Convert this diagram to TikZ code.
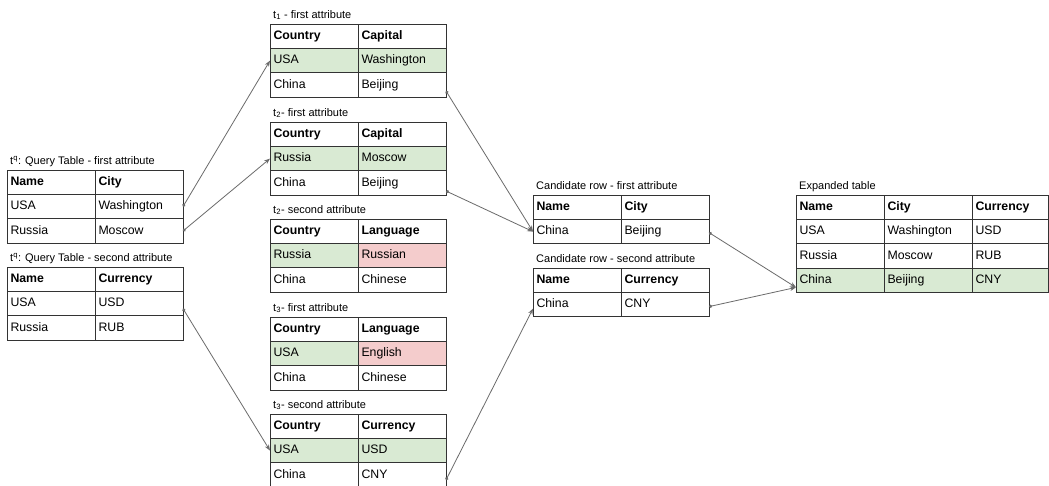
\documentclass[tikz,border=0pt]{standalone}
\usepackage{fontspec}
\setmainfont{Liberation Sans}
\usetikzlibrary{arrows.meta}
\definecolor{greenfill}{HTML}{D9EAD3}
\definecolor{redfill}{HTML}{F4CCCC}
\definecolor{linkgray}{HTML}{6B6B6B}
\definecolor{border}{HTML}{333333}
\newcommand\bodyfont{\fontsize{12.3}{14}\selectfont}
\newcommand\labfont{\fontsize{11}{13}\selectfont}
\newcommand\trow[6]{%
  \node[cell,#3] (#1a) at #2 {#4};
  \node[cell,#5] (#1b) at (#1a.north east) {#6};}
\tikzset{
  cell/.style={draw=border, line width=0.9pt, anchor=north west, outer sep=0pt,
    inner xsep=3.5pt, inner ysep=0pt, minimum height=24.4pt, text width=81pt,
    align=left, font=\bodyfont, text height=9pt, text depth=2.5pt},
  hd/.style={font=\bodyfont\bfseries},
  gr/.style={fill=greenfill},
  rd/.style={fill=redfill},
  narrow/.style={text width=69pt},
  lbl/.style={anchor=base west, inner sep=0pt, font=\labfont},
  link/.style={draw=linkgray, line width=0.8pt,
    {Circle[length=3.2pt]}-{Stealth[length=6pt,width=4.5pt]}}
}
\begin{document}
\begin{tikzpicture}[x=1pt,y=-1pt]
\useasboundingbox (0,0) rectangle (1049,485);
\fill[white] (0,0) rectangle (1049,485);

% Query table - first attribute
\node[lbl] (lq1) at (10,164) {t\textsuperscript{q}: Query Table - first attribute};
\trow{qah}{(7,170)}{hd}{Name}{hd}{City}
\trow{qa1}{(qaha.south west)}{}{USA}{}{Washington}
\trow{qa2}{(qa1a.south west)}{}{Russia}{}{Moscow}

% Query table - second attribute
\node[lbl] (lq2) at (10,261) {t\textsuperscript{q}: Query Table - second attribute};
\trow{qbh}{(7,267)}{hd}{Name}{hd}{Currency}
\trow{qb1}{(qbha.south west)}{}{USA}{}{USD}
\trow{qb2}{(qb1a.south west)}{}{Russia}{}{RUB}

% t1 - first attribute
\node[lbl] (l1) at (273,18) {t\textsubscript{1} - first attribute};
\trow{tah}{(270,24)}{hd}{Country}{hd}{Capital}
\trow{ta1}{(taha.south west)}{gr}{USA}{gr}{Washington}
\trow{ta2}{(ta1a.south west)}{}{China}{}{Beijing}

% t2 - first attribute
\node[lbl] (l2) at (273,116) {t\textsubscript{2}- first attribute};
\trow{tbh}{(270,122)}{hd}{Country}{hd}{Capital}
\trow{tb1}{(tbha.south west)}{gr}{Russia}{gr}{Moscow}
\trow{tb2}{(tb1a.south west)}{}{China}{}{Beijing}

% t2 - second attribute
\node[lbl] (l3) at (273,213) {t\textsubscript{2}- second attribute};
\trow{tch}{(270,219)}{hd}{Country}{hd}{Language}
\trow{tc1}{(tcha.south west)}{gr}{Russia}{rd}{Russian}
\trow{tc2}{(tc1a.south west)}{}{China}{}{Chinese}

% t3 - first attribute
\node[lbl] (l4) at (273,311) {t\textsubscript{3}- first attribute};
\trow{tdh}{(270,317)}{hd}{Country}{hd}{Language}
\trow{td1}{(tdha.south west)}{gr}{USA}{rd}{English}
\trow{td2}{(td1a.south west)}{}{China}{}{Chinese}

% t3 - second attribute
\node[lbl] (l5) at (273,408) {t\textsubscript{3}- second attribute};
\trow{teh}{(270,414)}{hd}{Country}{hd}{Currency}
\trow{te1}{(teha.south west)}{gr}{USA}{gr}{USD}
\trow{te2}{(te1a.south west)}{}{China}{}{CNY}

% Candidate rows
\node[lbl] (lc1) at (536,189) {Candidate row - first attribute};
\trow{cah}{(533,195)}{hd}{Name}{hd}{City}
\trow{ca1}{(caha.south west)}{}{China}{}{Beijing}

\node[lbl] (lc2) at (536,262) {Candidate row - second attribute};
\trow{cbh}{(533,268)}{hd}{Name}{hd}{Currency}
\trow{cb1}{(cbha.south west)}{}{China}{}{CNY}

% Expanded table
\node[lbl] (le) at (799,189) {Expanded table};
\trow{eh}{(796,195)}{hd}{Name}{hd}{City}
\node[cell,hd,narrow] (ehc) at (ehb.north east) {Currency};
\trow{e1}{(eha.south west)}{}{USA}{}{Washington}
\node[cell,narrow] (e1c) at (e1b.north east) {USD};
\trow{e2}{(e1a.south west)}{}{Russia}{}{Moscow}
\node[cell,narrow] (e2c) at (e2b.north east) {RUB};
\trow{e3}{(e2a.south west)}{gr}{China}{gr}{Beijing}
\node[cell,gr,narrow] (e3c) at (e3b.north east) {CNY};

% Connectors
\draw[link] (qa1b.east) -- (ta1a.west);
\draw[link] (qa2b.east) -- (tb1a.west);
\draw[link] ([yshift=-5pt]qb1b.east) -- (te1a.west);
\draw[link] ([yshift=-6pt]ta2b.east) -- (ca1a.west);
\draw[link] ([yshift=-8pt]tb2b.east) -- (ca1a.west);
\draw[link] ([yshift=-5pt]te2b.east) -- ([yshift=-4pt]cb1a.west);
\draw[link] ([yshift=-1pt]ca1b.east) -- ([yshift=-7pt]e3a.west);
\draw[link] ([yshift=-2pt]cb1b.east) -- ([yshift=-7pt]e3a.west);
\end{tikzpicture}
\end{document}
